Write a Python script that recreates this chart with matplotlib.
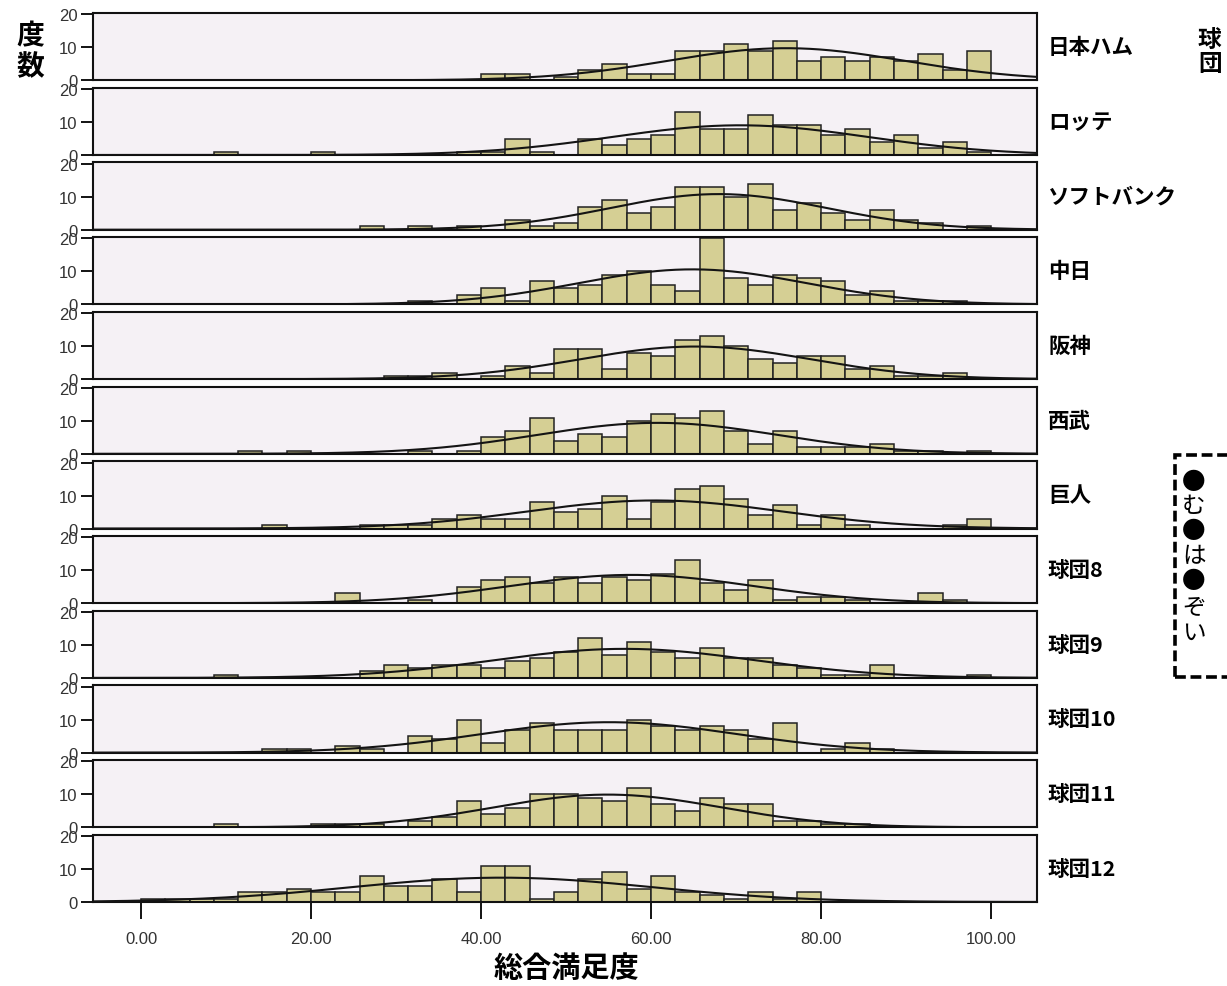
import numpy as np
import matplotlib
matplotlib.use("Agg")
import matplotlib.pyplot as plt
from matplotlib.patches import Rectangle

plt.rcParams['font.family'] = ['Noto Sans CJK JP', 'DejaVu Sans']

# 球団名（上から順）
teams = ["日本ハム", "ロッテ", "ソフトバンク", "中日", "阪神", "西武",
         "巨人", "球団8", "球団9", "球団10", "球団11", "球団12"]

# 35 bins of width 100/35 between 0 and 100
bin_edges = np.linspace(0, 100, 36)

nippon_ham = [0, 0, 0, 0, 0, 0, 0, 0, 0, 0, 0, 0, 0, 0, 2, 2, 0, 1, 3, 5,
              2, 2, 9, 9, 11, 9, 12, 6, 7, 6, 7, 6, 8, 3, 9]
lotte = [0, 0, 0, 1, 0, 0, 0, 1, 0, 0, 0, 0, 0, 1, 1, 5, 1, 0, 5, 3,
         5, 6, 13, 8, 8, 12, 9, 9, 6, 8, 4, 6, 2, 4, 1]
softbank = [0, 0, 0, 0, 0, 0, 0, 0, 0, 1, 0, 1, 0, 1, 0, 3, 1, 2, 7, 9,
            5, 7, 13, 13, 10, 14, 6, 8, 5, 3, 6, 3, 2, 0, 1]
chunichi = [0, 0, 0, 0, 0, 0, 0, 0, 0, 0, 0, 1, 0, 3, 5, 1, 7, 5, 6, 9,
            10, 6, 4, 20, 8, 6, 9, 8, 7, 3, 4, 1, 1, 1, 0]
hanshin = [0, 0, 0, 0, 0, 0, 0, 0, 0, 0, 1, 1, 2, 0, 1, 4, 2, 9, 9, 3,
           8, 7, 12, 13, 10, 6, 5, 7, 7, 3, 4, 1, 1, 2, 0]
seibu = [0, 0, 0, 0, 1, 0, 1, 0, 0, 0, 0, 1, 0, 1, 5, 7, 11, 4, 6, 5,
         10, 12, 11, 13, 7, 3, 7, 2, 2, 2, 3, 1, 1, 0, 1]
giants = [0, 0, 0, 0, 0, 1, 0, 0, 0, 1, 1, 1, 3, 4, 3, 3, 8, 5, 6, 10,
          3, 8, 12, 13, 9, 4, 7, 1, 4, 1, 0, 0, 0, 1, 3]
team8 = [0, 0, 0, 0, 0, 0, 0, 0, 3, 0, 0, 1, 0, 5, 7, 8, 6, 8, 6, 8,
         7, 9, 13, 6, 4, 7, 1, 2, 2, 1, 0, 0, 3, 1, 0]
team9 = [0, 0, 0, 1, 0, 0, 0, 0, 0, 2, 4, 3, 4, 4, 3, 5, 6, 8, 12, 7,
         11, 8, 6, 9, 6, 6, 4, 3, 1, 1, 4, 0, 0, 0, 1]
team10 = [0, 0, 0, 0, 0, 1, 1, 0, 2, 1, 0, 5, 4, 10, 3, 7, 9, 7, 7, 7,
          10, 8, 7, 8, 7, 4, 9, 0, 1, 3, 1, 0, 0, 0, 0]
team11 = [0, 0, 0, 1, 0, 0, 0, 1, 1, 1, 0, 2, 3, 8, 4, 6, 10, 10, 9, 8,
          12, 7, 5, 9, 7, 7, 2, 2, 1, 1, 0, 0, 0, 0, 0]
team12 = [1, 1, 1, 1, 3, 3, 4, 3, 3, 8, 5, 5, 7, 3, 11, 11, 1, 3, 7, 9,
          4, 8, 3, 2, 1, 3, 1, 3, 0, 0, 0, 0, 0, 0, 0]

counts = [nippon_ham, lotte, softbank, chunichi, hanshin, seibu,
          giants, team8, team9, team10, team11, team12]

x_ticks = [0, 20, 40, 60, 80, 100]
y_ticks = [0, 10, 20]

note_lines = ["●", "む", "●", "は", "●", "ぞ", "い"]

W, H = 1227, 987
fig = plt.figure(figsize=(W / 100, H / 100), dpi=100)
fig.patch.set_facecolor('white')

left_px, right_px = 93, 1037
top0, pitch, ph = 14, 74.7, 67.3

bw = bin_edges[1] - bin_edges[0]
mids = (bin_edges[:-1] + bin_edges[1:]) / 2
xmin, xmax = -5.65, 105.4
xs = np.linspace(xmin, xmax, 500)

for i, (name, c) in enumerate(zip(teams, counts)):
    top = top0 + i * pitch
    ax = fig.add_axes([left_px / W, 1 - (top + ph) / H, (right_px - left_px) / W, ph / H])
    ax.set_facecolor('#F5F1F5')
    c = np.array(c, dtype=float)
    nz = c > 0
    ax.bar(bin_edges[:-1][nz], c[nz], width=bw, align='edge',
           color='#D5CF94', edgecolor='#222222', linewidth=1.1, zorder=2)

    # normal curve fitted to the histogram
    n = c.sum()
    mu = (c * mids).sum() / n
    sd = np.sqrt((c * (mids - mu) ** 2).sum() / (n - 1))
    ys = n * bw * np.exp(-0.5 * ((xs - mu) / sd) ** 2) / (sd * np.sqrt(2 * np.pi))
    ax.plot(xs, ys, color='#141414', lw=1.5, zorder=3)

    ax.set_xlim(xmin, xmax)
    ax.set_ylim(0, 20.4)
    for sp in ax.spines.values():
        sp.set_linewidth(1.5)
        sp.set_color('#111111')
    ax.set_yticks(y_ticks)
    ax.tick_params(axis='y', length=9, width=1.3, direction='out',
                   labelsize=12, labelcolor='#333333', pad=2)
    for lab in ax.get_yticklabels():
        lab.set_fontfamily('Liberation Sans')
    if i == len(teams) - 1:
        ax.set_xticks(x_ticks)
        ax.set_xticklabels([f"{v:.2f}" for v in x_ticks])
        ax.tick_params(axis='x', length=12, width=1.3, direction='out',
                       labelsize=12, labelcolor='#333333', pad=9)
        for lab in ax.get_xticklabels():
            lab.set_fontfamily('Liberation Sans')
    else:
        ax.tick_params(axis='x', bottom=False, labelbottom=False)

    fig.text(1048 / W, 1 - (top + ph / 2) / H, name, ha='left', va='center',
             fontsize=15.5, fontweight='bold')

# axis titles
fig.text(30 / W, 1 - 52 / H, "度\n数", ha='center', va='center',
         fontsize=20, fontweight='bold', linespacing=1.12)
fig.text(566 / W, 1 - 968 / H, "総合満足度", ha='center', va='center',
         fontsize=21, fontweight='bold')
fig.text(1198 / W, 1 - 52 / H, "球\n団", ha='left', va='center',
         fontsize=17, fontweight='bold', linespacing=1.0)

# dashed note box (cut at the right edge)
box = Rectangle((1175 / W, 1 - 678 / H), 0.2, (678 - 456) / H,
                transform=fig.transFigure, fill=False, edgecolor='black',
                linewidth=2.6, linestyle=(0, (3, 1.3)), clip_on=False)
fig.patches.append(box)
line_y = [483, 507, 532, 557, 582, 608, 633]
for txt, yy in zip(note_lines, line_y):
    fig.text(1182 / W, 1 - yy / H, txt, ha='left', va='center', fontsize=17)

fig.savefig("out.png", dpi=100)
